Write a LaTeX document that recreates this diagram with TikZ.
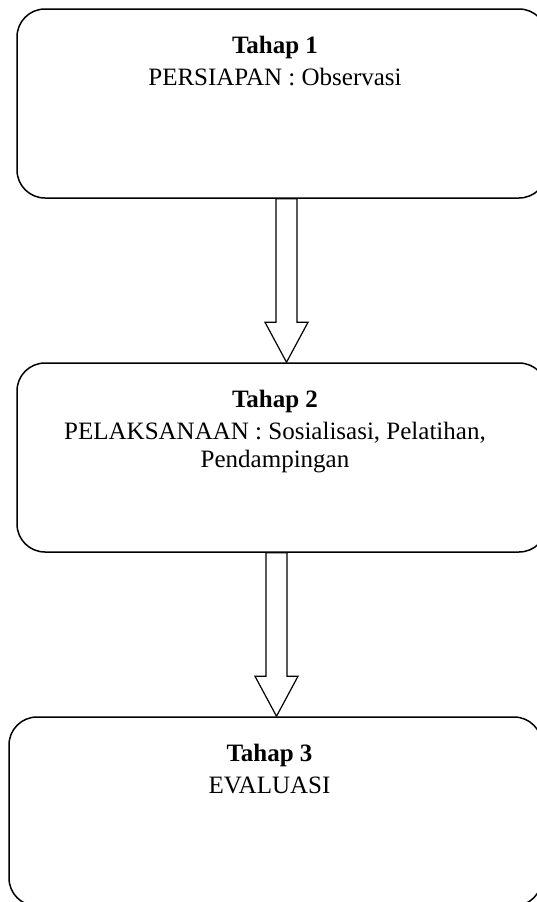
\documentclass[tikz,border=0pt]{standalone}
\usepackage{fontspec}
\setmainfont{Liberation Serif}
\usetikzlibrary{calc}

\tikzset{
	stagebox/.style={draw, line width=1.5pt, rectangle, rounded corners=28pt, minimum width=530pt, minimum height=189pt},
	stagetitle/.style={font=\fontsize{25}{28.5}\selectfont\bfseries, inner sep=0pt},
	stagebody/.style={font=\fontsize{25}{28.5}\selectfont, align=center, inner sep=0pt},
	fatarrow/.style={draw, line width=1.2pt, fill=white, line join=miter}
}

\begin{document}
\begin{tikzpicture} [x=1pt, y=-1pt]
		\def\shaftHalf{10.5};
		\def\headHalf{21.5};
		\def\headLen{40};
		\def\titleDrop{45};
		\def\bodyDrop{77};
		\def\lineSkip{28.5};
		\def\textShift{-7};
		
		\clip (0,0) rectangle (537,902);
		\fill[white] (0,0) rectangle (537,902);
		
		%stage boxes
		\node[stagebox] (box1) at (282,103.5) {};
		\node[stagebox] (box2) at (282,457.5) {};
		\node[stagebox, minimum width=533pt] (box3) at (275.5,811.5) {};
		
		%stage texts (base = last line)
		\node[stagetitle, anchor=base] (title1) at ($(box1.north)+(\textShift,\titleDrop)$) {Tahap 1};
		\node[stagebody, anchor=base] (body1) at ($(box1.north)+(\textShift,\bodyDrop)$) {PERSIAPAN : Observasi};
		
		\node[stagetitle, anchor=base] (title2) at ($(box2.north)+(\textShift,\titleDrop)$) {Tahap 2};
		\node[stagebody, anchor=base] (body2) at ($(box2.north)+(\textShift,\bodyDrop+\lineSkip)$) {PELAKSANAAN : Sosialisasi, Pelatihan,\\Pendampingan};
		
		\node[stagetitle, anchor=base] (title3) at ($(box3.north)+(\textShift+1,\titleDrop)$) {Tahap 3};
		\node[stagebody, anchor=base] (body3) at ($(box3.north)+(\textShift+1,\bodyDrop)$) {EVALUASI};
		
		%arrows between stages
		\coordinate (axis1) at (286.5,0);
		\coordinate (axis2) at (276.5,0);
		
		\draw[fatarrow] let \p1=(box1.south -| axis1), \p2=(box2.north -| axis1) in
			(\x1-\shaftHalf pt,\y1) -- (\x1+\shaftHalf pt,\y1) -- (\x1+\shaftHalf pt,\y2+\headLen pt)
			-- (\x1+\headHalf pt,\y2+\headLen pt) -- (\x1,\y2) -- (\x1-\headHalf pt,\y2+\headLen pt)
			-- (\x1-\shaftHalf pt,\y2+\headLen pt) -- cycle;
		
		\draw[fatarrow] let \p1=(box2.south -| axis2), \p2=(box3.north -| axis2) in
			(\x1-\shaftHalf pt,\y1) -- (\x1+\shaftHalf pt,\y1) -- (\x1+\shaftHalf pt,\y2+\headLen pt)
			-- (\x1+\headHalf pt,\y2+\headLen pt) -- (\x1,\y2) -- (\x1-\headHalf pt,\y2+\headLen pt)
			-- (\x1-\shaftHalf pt,\y2+\headLen pt) -- cycle;
	
	\end{tikzpicture}
\end{document}
